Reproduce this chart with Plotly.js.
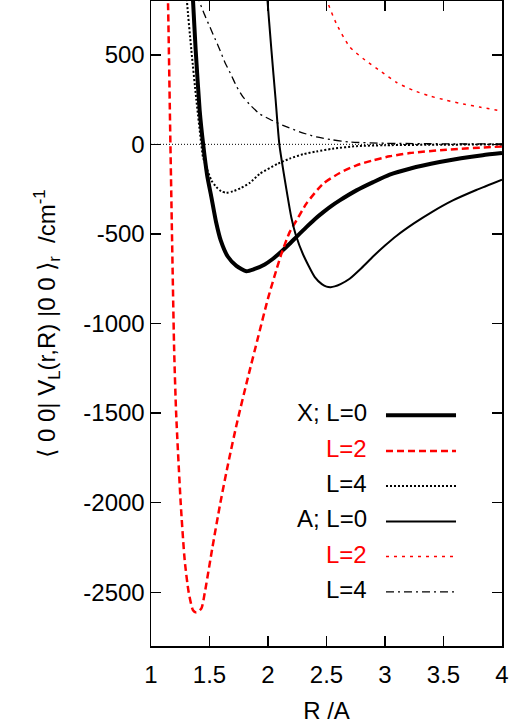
<!DOCTYPE html>
<html>
<head>
<meta charset="utf-8">
<script src="https://cdn.plot.ly/plotly-3.0.1.min.js"></script>
<style>html,body{margin:0;padding:0;background:#fff;}#chart{width:511px;height:728px;}</style>
</head>
<body>
<div id="chart"></div>
<script>
// ---- data (R in Angstrom, values in cm^-1) ----
const xL0_R = [1.335, 1.359, 1.382, 1.416, 1.446, 1.48, 1.516, 1.557, 1.596, 1.656, 1.73, 1.815, 1.88, 1.972, 2.04, 2.115, 2.185, 2.25, 2.328, 2.40, 2.47, 2.54, 2.613, 2.756, 2.899, 3.04, 3.211, 3.467, 3.65, 3.835, 4.0];
const xL0_V = [1100, 804, 525, 190, 0, -173, -294, -436, -536, -626, -678, -708, -697, -670, -640, -598, -555, -512, -462, -418, -380, -345, -313, -257, -211, -169, -136, -99, -78, -61, -49];

const xL2_R = [1.12, 1.145, 1.166, 1.198, 1.215, 1.254, 1.288, 1.322, 1.359, 1.388, 1.431, 1.459, 1.525, 1.592, 1.66, 1.738, 1.829, 1.915, 2.0, 2.072, 2.115, 2.185, 2.243, 2.328, 2.47, 2.613, 2.756, 2.899, 3.04, 3.211, 3.525, 4.0];
const xL2_V = [1400, 804, 0, -1151, -1503, -2004, -2322, -2500, -2600, -2613, -2590, -2505, -2250, -2004, -1780, -1545, -1300, -1077, -860, -700, -610, -490, -425, -331, -220, -160, -117, -89, -67, -49, -30, -12];

const xL4_R = [1.29, 1.307, 1.345, 1.388, 1.43, 1.444, 1.473, 1.515, 1.559, 1.60, 1.644, 1.70, 1.77, 1.844, 1.929, 2.085, 2.185, 2.30, 2.414, 2.55, 2.756, 3.0, 3.5, 4.0];
const xL4_V = [1100, 804, 525, 246, 0, -70, -127, -200, -239, -262, -270, -262, -243, -215, -165, -108, -80, -55, -40, -25, -10, -5, -2, -1];

const aL0_R = [1.97, 1.99, 2.03, 2.065, 2.097, 2.157, 2.20, 2.237, 2.30, 2.40, 2.46, 2.50, 2.535, 2.57, 2.62, 2.698, 2.80, 2.90, 3.0, 3.1, 3.25, 3.4, 3.58, 3.78, 4.0];
const aL0_V = [1050, 850, 520, 250, 0, -250, -410, -505, -615, -741, -780, -794, -797, -793, -780, -750, -690, -625, -565, -510, -440, -378, -313, -255, -197];

const aL2_R = [2.45, 2.504, 2.584, 2.698, 2.83, 2.97, 3.1, 3.24, 3.38, 3.525, 3.67, 3.81, 4.0];
const aL2_V = [950, 804, 674, 544, 470, 405, 345, 302, 270, 246, 225, 208, 186];

const aL4_R = [1.39, 1.41, 1.444, 1.53, 1.587, 1.63, 1.687, 1.73, 1.786, 1.844, 1.929, 2.015, 2.128, 2.27, 2.414, 2.55, 2.698, 3.0, 3.5, 4.0];
const aL4_V = [840, 804, 745, 615, 530, 460, 385, 325, 265, 222, 170, 140, 106, 70, 41, 25, 13, 6, 3, 2];

const legendLabels = ["X; L=0", "L=2", "L=4", "A; L=0", "L=2", "L=4"];

const xTickVals = [1, 1.5, 2, 2.5, 3, 3.5, 4];
const xTickText = ["1", "1.5", "2", "2.5", "3", "3.5", "4"];
const yTickVals = [-2500, -2000, -1500, -1000, -500, 0, 500];
const yTickText = ["-2500", "-2000", "-1500", "-1000", "-500", "0", "500"];

// ---- styles ----
const FONT = "Liberation Sans, Arial, sans-serif";
const styles = [
  {color: "#000000", width: 4,   dash: "solid"},
  {color: "#ff0000", width: 2.5, dash: "7px,4px"},
  {color: "#000000", width: 2,   dash: "2px,2px"},
  {color: "#000000", width: 2,   dash: "solid"},
  {color: "#ff0000", width: 1.5, dash: "3px,5px"},
  {color: "#000000", width: 1.3, dash: "8px,4px,2px,4px"}
];
const series = [[xL0_R, xL0_V], [xL2_R, xL2_V], [xL4_R, xL4_V], [aL0_R, aL0_V], [aL2_R, aL2_V], [aL4_R, aL4_V]];

const traces = series.map((s, i) => ({
  x: s[0], y: s[1], type: "scatter", mode: "lines",
  line: {color: styles[i].color, width: styles[i].width, dash: styles[i].dash, shape: "spline", smoothing: 0.6},
  showlegend: false, hoverinfo: "skip", cliponaxis: true
}));

// legend (text on the left, sample on the right) drawn as annotations + shapes
const legRowY = [0.3617, 0.3065, 0.2522, 0.1969, 0.1426, 0.0879];
const annotations = legendLabels.map((t, i) => ({
  xref: "paper", yref: "paper", x: 0.621, y: legRowY[i], xanchor: "right", yanchor: "middle",
  text: t, showarrow: false, font: {family: FONT, size: 24, color: styles[i].color}
}));
const shapes = [
  {type: "line", xref: "paper", yref: "y", x0: 0, x1: 1, y0: 0, y1: 0, layer: "below",
   line: {color: "#000", width: 1, dash: "1px,2px"}}
].concat(legendLabels.map((t, i) => ({
  type: "line", xref: "paper", yref: "paper", x0: 0.6695, x1: 0.869, y0: legRowY[i] - 0.004, y1: legRowY[i] - 0.004,
  line: {color: styles[i].color, width: styles[i].width, dash: styles[i].dash}
})));

const axisCommon = {
  showline: true, linecolor: "#000", linewidth: 1.5, mirror: "ticks",
  ticks: "inside", ticklen: 10, tickwidth: 1.5, tickcolor: "#000",
  showgrid: false, zeroline: false, tickmode: "array",
  tickfont: {family: FONT, size: 24, color: "#000"}
};

const layout = {
  width: 511, height: 728,
  margin: {l: 151, r: 9, t: 1, b: 82},
  paper_bgcolor: "#fff", plot_bgcolor: "#fff",
  showlegend: false,
  xaxis: Object.assign({}, axisCommon, {
    range: [1, 4], tickvals: xTickVals, ticktext: xTickText, ticklabelstandoff: 7,
    title: {text: "R /A", font: {family: FONT, size: 24, color: "#000"}, standoff: 15}
  }),
  yaxis: Object.assign({}, axisCommon, {
    range: [-2800, 800], tickvals: yTickVals, ticktext: yTickText,
    title: {text: "\u27E8 0 0| V<sub>L</sub>(r,R) |0 0 \u27E9<sub>r</sub>\u00A0\u00A0/cm<sup>-1</sup>", font: {family: FONT, size: 24, color: "#000"}, standoff: 21}
  }),
  annotations: annotations,
  shapes: shapes
};

Plotly.newPlot("chart", traces, layout, {staticPlot: true, displayModeBar: false});
</script>
</body>
</html>
